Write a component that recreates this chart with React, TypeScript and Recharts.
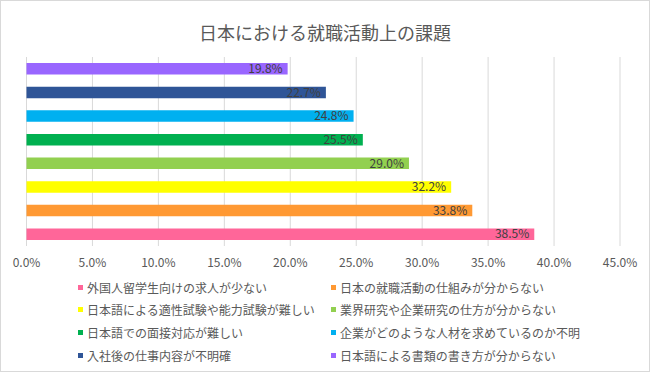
import { BarChart, Bar, XAxis, YAxis, CartesianGrid, Cell, LabelList } from "recharts";

const title = "日本における就職活動上の課題";

const categories = [
  "外国人留学生向けの求人が少ない",
  "日本の就職活動の仕組みが分からない",
  "日本語による適性試験や能力試験が難しい",
  "業界研究や企業研究の仕方が分からない",
  "日本語での面接対応が難しい",
  "企業がどのような人材を求めているのか不明",
  "入社後の仕事内容が不明確",
  "日本語による書類の書き方が分からない",
];

const values = [38.5, 33.8, 32.2, 29.0, 25.5, 24.8, 22.7, 19.8];

const colors = ["#FF6699", "#FF9933", "#FFFF00", "#92D050", "#00B050", "#00B0F0", "#2F5597", "#9966FF"];

const xTicks = [0, 5, 10, 15, 20, 25, 30, 35, 40, 45];

const FONT = "'Noto Sans CJK JP', 'Noto Sans', sans-serif";

export default function App() {
  const data = categories.map((name, i) => ({ name, value: values[i] }));

  return (
    <div
      style={{
        position: "absolute",
        left: 0,
        top: 0,
        width: 650,
        height: 372,
        boxSizing: "border-box",
        border: "1px solid #d9d9d9",
        background: "#fff",
        fontFamily: FONT,
      }}
    >
      <div
        style={{
          position: "absolute",
          left: 0,
          top: 19,
          width: 648,
          textAlign: "center",
          fontSize: 18,
          lineHeight: "24px",
          color: "#595959",
        }}
      >
        {title}
      </div>

      <div style={{ position: "absolute", left: -1, top: -1 }}>
        <BarChart
          width={650}
          height={280}
          data={data}
          layout="vertical"
          margin={{ top: 57, right: 30, left: 26.5, bottom: 0 }}
        >
          <CartesianGrid stroke="#d9d9d9" horizontal={false} />
          <XAxis
            type="number"
            domain={[0, 45]}
            ticks={xTicks}
            axisLine={false}
            tickLine={false}
            tickMargin={6}
            height={34}
            interval={0}
            tick={{ fill: "#595959", fontSize: 12, fontFamily: FONT }}
            tickFormatter={(v: number) => v.toFixed(1) + "%"}
          />
          <YAxis type="category" dataKey="name" reversed hide />
          <Bar dataKey="value" barSize={11.5} isAnimationActive={false}>
            {data.map((d, i) => (
              <Cell key={d.name} fill={colors[i]} />
            ))}
            <LabelList
              dataKey="value"
              position="insideRight"
              fill="#404040"
              fontSize={12}
              fontFamily={FONT}
              formatter={(v: number) => v.toFixed(1) + "%"}
            />
          </Bar>
        </BarChart>
      </div>

      <div style={{ position: "absolute", left: 0, top: 276, width: 648 }}>
        {categories.map((name, i) => {
          const col = i % 2;
          const row = Math.floor(i / 2);
          return (
            <div
              key={name}
              style={{
                position: "absolute",
                left: col === 0 ? 77 : 330,
                top: row * 22.7,
                height: 20,
                display: "flex",
                alignItems: "center",
                whiteSpace: "nowrap",
                fontSize: 12,
                color: "#595959",
              }}
            >
              <span
                style={{
                  display: "inline-block",
                  width: 5,
                  height: 5,
                  background: colors[i],
                  marginRight: 4,
                }}
              />
              {name}
            </div>
          );
        })}
      </div>
    </div>
  );
}
